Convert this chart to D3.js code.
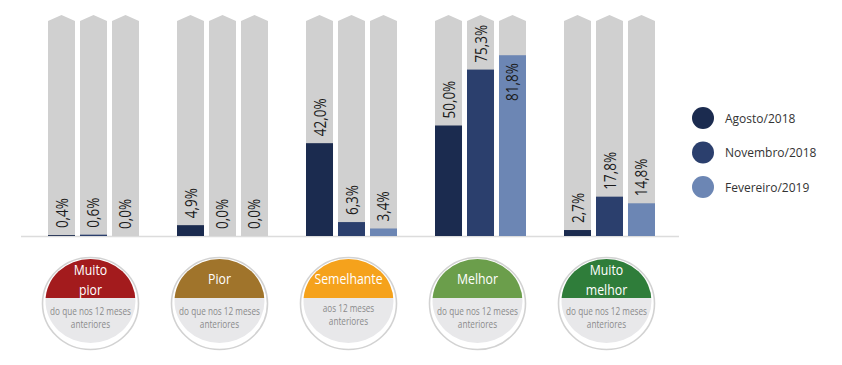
<!DOCTYPE html>
<html>
<head>
<meta charset="utf-8">
<script src="https://cdn.jsdelivr.net/npm/d3@7"></script>
<style>
  html, body { margin: 0; padding: 0; background: #ffffff; }
  svg { display: block; }
</style>
</head>
<body>
<svg id="chart" width="842" height="365"></svg>
<script>
// ---- data ----
const categories = ["Muito pior", "Pior", "Semelhante", "Melhor", "Muito melhor"];
const titleLines = [["Muito", "pior"], ["Pior"], ["Semelhante"], ["Melhor"], ["Muito", "melhor"]];
const subtitleLines = [
  ["do que nos 12 meses", "anteriores"],
  ["do que nos 12 meses", "anteriores"],
  ["aos 12 meses", "anteriores"],
  ["do que nos 12 meses", "anteriores"],
  ["do que nos 12 meses", "anteriores"]
];
const categoryColors = ["#a31b1d", "#a0742b", "#f5a21c", "#6b9e4b", "#2f7d3a"];
const series = ["Agosto/2018", "Novembro/2018", "Fevereiro/2019"];
const seriesColors = ["#1b2b4f", "#2b3f6d", "#6c86b4"];
const agosto = [0.4, 4.9, 42.0, 50.0, 2.7];
const novembro = [0.6, 0.0, 6.3, 75.3, 17.8];
const fevereiro = [0.0, 0.0, 3.4, 81.8, 14.8];
const seriesValues = [agosto, novembro, fevereiro];
const maxValue = 100;

// ---- layout ----
const svg = d3.select("#chart");
const baseY = 236;
const topY = 15;

const x0 = d3.scaleBand().domain(categories).range([48, 655]).paddingInner(0.2946).paddingOuter(0);
const x1 = d3.scaleBand().domain(series).range([0, x0.bandwidth()]).paddingInner(0.156).paddingOuter(0);
const y = d3.scaleLinear().domain([0, maxValue]).range([baseY, topY]);
const color = d3.scaleOrdinal().domain(series).range(seriesColors);
const fmt = v => d3.format(".1f")(v).replace(".", ",") + "%";

const rows = [];
categories.forEach((c, i) => {
  series.forEach((s, j) => rows.push({ cat: c, ser: s, value: seriesValues[j][i] }));
});

// baseline
svg.append("line")
  .attr("x1", 21).attr("x2", 679)
  .attr("y1", baseY + 0.5).attr("y2", baseY + 0.5)
  .attr("stroke", "#dcdcdc").attr("stroke-width", 1.5);

const groups = svg.append("g").selectAll("g.bar")
  .data(rows).join("g")
  .attr("class", "bar")
  .attr("transform", d => `translate(${x0(d.cat) + x1(d.ser)},0)`);

const bw = x1.bandwidth();
// background arrow-shaped bars (100%)
groups.append("path")
  .attr("d", () => {
    const yt = y(maxValue);
    return `M0,${baseY} L0,${yt + 6} L${bw / 2},${yt} L${bw},${yt + 6} L${bw},${baseY} Z`;
  })
  .attr("fill", "#d0d0d0");

// value bars
groups.append("rect")
  .attr("x", 0).attr("width", bw)
  .attr("y", d => y(d.value))
  .attr("height", d => baseY - y(d.value))
  .attr("fill", d => color(d.ser));

// labels
groups.append("text")
  .attr("transform", d => {
    const inside = d.value > 80;
    const ly = inside ? y(d.value) + 8 : y(d.value) - 7;
    return `translate(${bw / 2 + 6},${ly}) rotate(-90) scale(1,1.15)`;
  })
  .attr("text-anchor", d => d.value > 80 ? "end" : "start")
  .attr("font-family", "'Open Sans', sans-serif")
  .attr("font-size", 13.5)
  .attr("fill", "#1a1a1a")
  .text(d => fmt(d.value));

// ---- category badges ----
const badge = svg.append("g").selectAll("g.badge")
  .data(categories).join("g")
  .attr("class", "badge")
  .attr("transform", d => `translate(${x0(d) + x0.bandwidth() / 2 - 3},0)`);

const defs = svg.append("defs");
categories.forEach((c, i) => {
  defs.append("clipPath").attr("id", "clip" + i)
    .append("ellipse").attr("cx", 0).attr("cy", 301).attr("rx", 45).attr("ry", 42);
});

badge.append("ellipse")
  .attr("cx", 0).attr("cy", 303.5).attr("rx", 48).attr("ry", 46)
  .attr("fill", "#ffffff")
  .attr("stroke", "#d2d2d2").attr("stroke-width", 1.6);

badge.each(function (d, i) {
  const g = d3.select(this);
  const inner = g.append("g").attr("clip-path", `url(#clip${i})`);
  inner.append("rect").attr("x", -50).attr("y", 250).attr("width", 100).attr("height", 48)
    .attr("fill", categoryColors[i]);
  inner.append("rect").attr("x", -50).attr("y", 298).attr("width", 100).attr("height", 55)
    .attr("fill", "#e8e8ea");

  const tl = titleLines[i];
  const ty = tl.length === 2 ? [270, 290] : [279];
  tl.forEach((t, k) => {
    g.append("text")
      .attr("transform", `translate(0,${ty[k] + 5}) scale(0.82,1)`)
      .attr("text-anchor", "middle")
      .attr("font-family", "'Open Sans', sans-serif")
      .attr("font-size", 15)
      .attr("fill", "#ffffff")
      .text(t);
  });
  const sl = subtitleLines[i];
  const sy = i === 2 ? [308, 321] : [311, 324];
  sl.forEach((t, k) => {
    g.append("text")
      .attr("transform", `translate(0,${sy[k] + 3.5}) scale(0.82,1)`)
      .attr("text-anchor", "middle")
      .attr("font-family", "'Open Sans', sans-serif")
      .attr("font-size", 10)
      .attr("fill", "#8a8a8a")
      .text(t);
  });
});

// ---- legend ----
const legend = svg.append("g").selectAll("g.leg")
  .data(series).join("g")
  .attr("class", "leg")
  .attr("transform", (d, i) => `translate(703,${118 + i * 34.5})`);
legend.append("circle").attr("r", 11).attr("fill", d => color(d));
legend.append("text")
  .attr("x", 22).attr("y", 4.5)
  .attr("font-family", "'Open Sans', sans-serif")
  .attr("font-size", 12)
  .attr("fill", "#333333")
  .text(d => d);
</script>
</body>
</html>
